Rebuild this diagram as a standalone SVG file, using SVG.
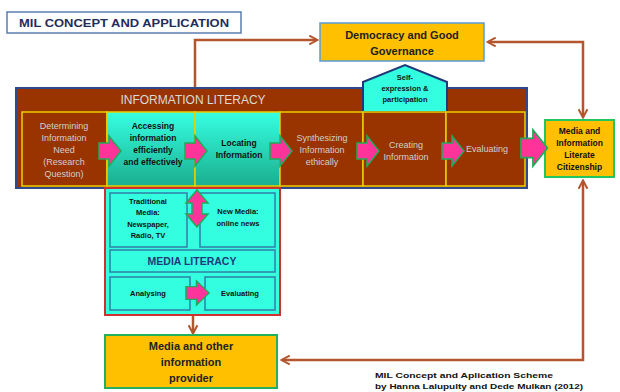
<svg xmlns="http://www.w3.org/2000/svg" width="620" height="392" viewBox="0 0 620 392">
<style>
text{font-family:"Liberation Sans","Open Sans",Arial,sans-serif;text-anchor:middle}
.conn{fill:none;stroke:#B4552D;stroke-width:2.5}
.brown{fill:#993300;stroke:#E8D000;stroke-width:1.5}
.cyan{fill:url(#cg);stroke:#E8D000;stroke-width:1.5}
.lt{fill:#CFCFCF;font-size:9px}
.dk{fill:#111;font-size:8.5px;font-weight:bold}
.orange{fill:#FFC000}
.inner{fill:#33FFE0;stroke:#2F7FA5;stroke-width:1.5}
.pink{fill:#FF3399;stroke:#22AA55;stroke-width:1.5}
</style>
<defs>
<linearGradient id="cg" x1="0" y1="0" x2="0" y2="1">
<stop offset="0" stop-color="#36FFE2"/>
<stop offset="1" stop-color="#1AAE8F"/>
</linearGradient>
<marker id="ah" viewBox="0 0 10 10" refX="8" refY="5" markerWidth="11" markerHeight="11" markerUnits="userSpaceOnUse" orient="auto-start-reverse">
<path d="M1,1 L8.5,5 L1,9" fill="none" stroke="#B4552D" stroke-width="1.8"/>
</marker>
<path id="pa" d="M0,-8 H10 V-15 L22,0 L10,15 V8 H0 Z"/>
</defs>

<g id="title">
<rect x="7" y="12" width="234" height="21" fill="#fff" stroke="#5B7DB1" stroke-width="1.5"/>
<text x="124" y="26.5" style="font-size:10.5px;font-weight:bold;fill:#1F2D5A" textLength="210" lengthAdjust="spacingAndGlyphs">MIL CONCEPT AND APPLICATION</text>
</g>

<g id="connectors">
<path class="conn" d="M195,88 V40 H317" marker-end="url(#ah)"/>
<path class="conn" d="M488,42 H583 V117" marker-start="url(#ah)" marker-end="url(#ah)"/>
<path class="conn" d="M583,181 V360 H282" marker-start="url(#ah)" marker-end="url(#ah)"/>
<path class="conn" d="M193,315 V333" marker-end="url(#ah)"/>
</g>

<g id="democracy">
<rect x="320" y="23" width="164" height="38" class="orange" stroke="#5B9BD5" stroke-width="1.5"/>
<text x="402" y="39" style="font-size:11px;font-weight:bold;fill:#222">Democracy and Good</text>
<text x="402" y="55" style="font-size:11px;font-weight:bold;fill:#222">Governance</text>
</g>

<g id="citizenship">
<rect x="545" y="120" width="69" height="57" class="orange" stroke="#22C55E" stroke-width="2"/>
<text x="579.5" y="134" class="dk">Media and</text>
<text x="579.5" y="146" class="dk">Information</text>
<text x="579.5" y="158" class="dk">Literate</text>
<text x="579.5" y="170" class="dk">Citizenship</text>
</g>

<g id="information-literacy">
<rect x="16" y="88" width="511" height="100" fill="#993300" stroke="#2E4A8C" stroke-width="2"/>
<text x="193" y="104" style="font-size:12px;fill:#D9D9D9">INFORMATION LITERACY</text>
</g>

<g id="self-expression">
<polygon points="363,112 363,82 405,65 447,82 447,112" fill="#33FFE0" stroke="#1F3A7A" stroke-width="2"/>
<text x="405" y="80" class="dk" style="font-size:7.5px">Self-</text>
<text x="405" y="91" class="dk" style="font-size:7.5px">expression &amp;</text>
<text x="405" y="102" class="dk" style="font-size:7.5px">participation</text>
</g>

<g id="determining">
<rect x="22" y="112" width="85" height="74" class="brown"/>
<text x="64" y="129" class="lt">Determining</text>
<text x="64" y="141" class="lt">Information</text>
<text x="64" y="153" class="lt">Need</text>
<text x="64" y="165" class="lt">(Research</text>
<text x="64" y="177" class="lt">Question)</text>
</g>

<g id="accessing">
<rect x="107" y="112" width="88" height="74" class="cyan"/>
<text x="153" y="129" class="dk">Accessing</text>
<text x="153" y="141" class="dk">information</text>
<text x="153" y="153" class="dk">efficiently</text>
<text x="153" y="165" class="dk">and effectively</text>
</g>

<g id="locating">
<rect x="195" y="112" width="85" height="74" class="cyan"/>
<text x="239" y="146" class="dk">Locating</text>
<text x="239" y="158" class="dk">Information</text>
</g>

<g id="synthesizing">
<rect x="280" y="112" width="83" height="74" class="brown"/>
<text x="322" y="141" class="lt">Synthesizing</text>
<text x="322" y="153" class="lt">Information</text>
<text x="322" y="165" class="lt">ethically</text>
</g>

<g id="creating">
<rect x="363" y="112" width="83" height="74" class="brown"/>
<text x="406" y="148" class="lt">Creating</text>
<text x="406" y="160" class="lt">Information</text>
</g>

<g id="evaluating">
<rect x="446" y="112" width="79" height="74" class="brown"/>
<text x="487" y="152" class="lt">Evaluating</text>
</g>

<g id="flow-arrows">
<use href="#pa" class="pink" transform="translate(99,151)"/>
<use href="#pa" class="pink" transform="translate(185,151)"/>
<use href="#pa" class="pink" transform="translate(270,151)"/>
<use href="#pa" class="pink" transform="translate(357,151)"/>
<use href="#pa" class="pink" transform="translate(442,151)"/>
<use href="#pa" class="pink" transform="translate(521,148) scale(1.2)"/>
</g>

<g id="media-literacy">
<rect x="105" y="188" width="175" height="127" fill="#33FFE0" stroke="#D03030" stroke-width="2"/>
<rect x="110" y="193" width="77" height="54" class="inner"/>
<text x="148" y="204" class="dk" style="font-size:7.5px">Traditional</text>
<text x="148" y="215" class="dk" style="font-size:7.5px">Media:</text>
<text x="148" y="227" class="dk" style="font-size:7.5px">Newspaper,</text>
<text x="148" y="238" class="dk" style="font-size:7.5px">Radio, TV</text>
<rect x="200" y="193" width="75" height="54" class="inner"/>
<text x="238" y="214" class="dk" style="font-size:7.5px">New Media:</text>
<text x="238" y="226" class="dk" style="font-size:7.5px">online news</text>
<path class="pink" d="M197,190 L208,203 H202 V214 H208 L197,227 L186,214 H192 V203 H186 Z"/>
<rect x="110" y="250" width="165" height="22" class="inner"/>
<text x="192" y="265" style="font-size:10.5px;font-weight:bold;fill:#1F3A7A">MEDIA LITERACY</text>
<rect x="110" y="277" width="80" height="33" class="inner"/>
<text x="148" y="296" class="dk" style="font-size:7.5px">Analysing</text>
<rect x="205" y="277" width="70" height="33" class="inner"/>
<text x="240" y="296" class="dk" style="font-size:7.5px">Evaluating</text>
<use href="#pa" class="pink" transform="translate(186,293) scale(1.05,0.8)"/>
</g>

<g id="media-provider">
<rect x="105" y="335" width="172" height="53" class="orange" stroke="#22B05A" stroke-width="2"/>
<text x="191" y="350" style="font-size:11px;font-weight:bold;fill:#222">Media and other</text>
<text x="191" y="366" style="font-size:11px;font-weight:bold;fill:#222">information</text>
<text x="191" y="382" style="font-size:11px;font-weight:bold;fill:#222">provider</text>
</g>

<g id="caption">
<text x="375" y="378" style="font-size:8px;font-weight:bold;text-anchor:start;fill:#111" textLength="178" lengthAdjust="spacingAndGlyphs">MIL Concept and Aplication  Scheme</text>
<text x="375" y="389" style="font-size:8px;font-weight:bold;text-anchor:start;fill:#111" textLength="208" lengthAdjust="spacingAndGlyphs">by Hanna Lalupulty and Dede Mulkan (2012)</text>
</g>
</svg>
